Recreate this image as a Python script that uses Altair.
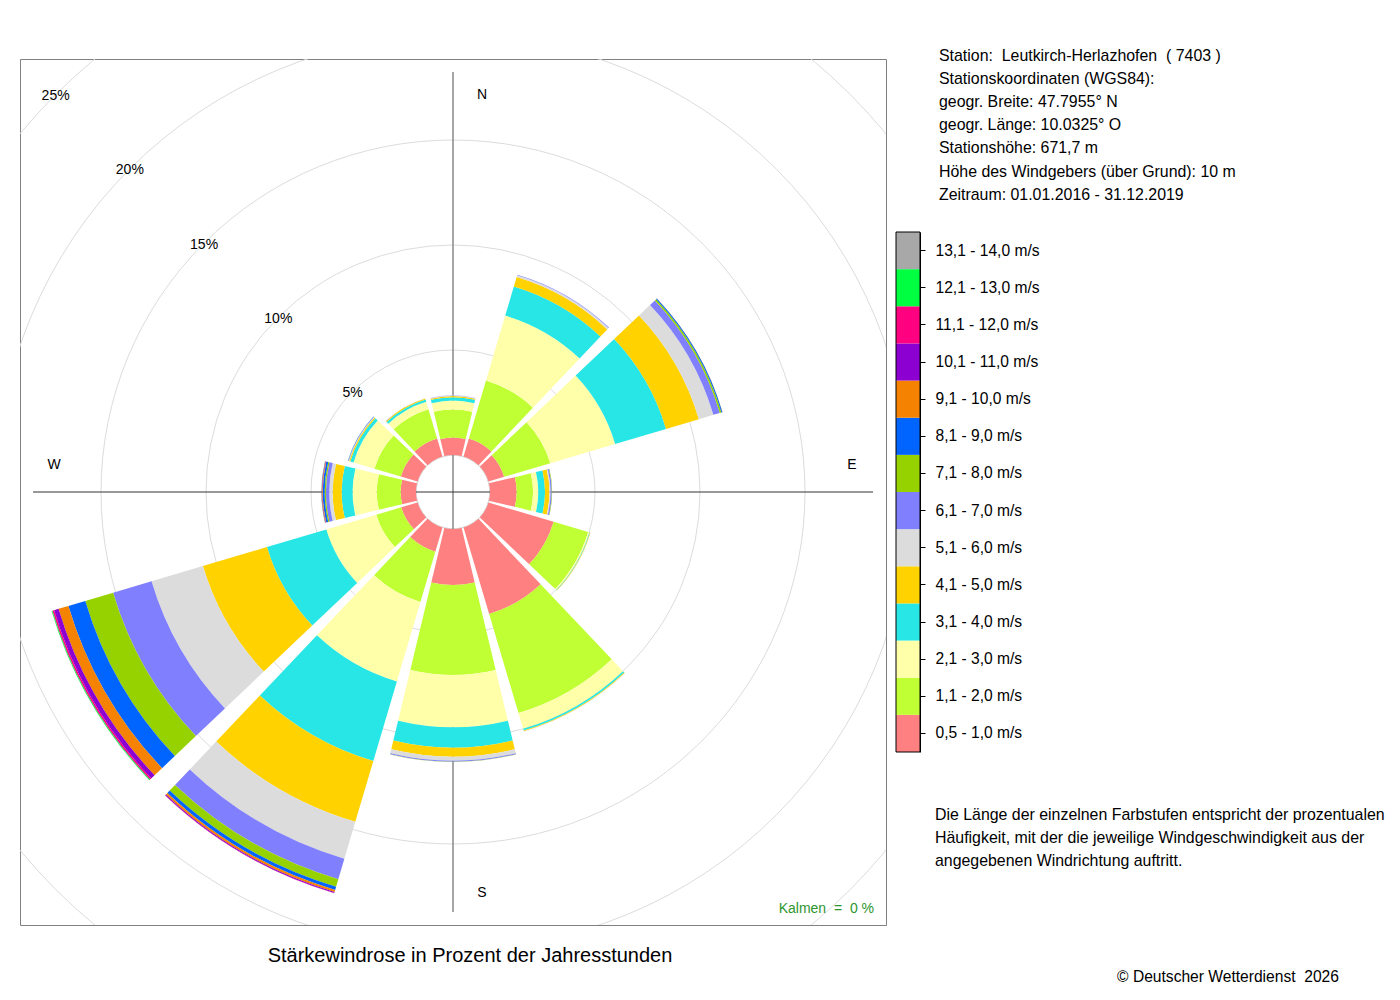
import math
import pandas as pd
import altair as alt

FONT = "Liberation Sans"

# Windrichtungen der 12 Sektoren (Grad, 0 = Nord)
richtung = [0, 30, 60, 90, 120, 150, 180, 210, 240, 270, 300, 330]

klassen = [
    "0,5 - 1,0 m/s", "1,1 - 2,0 m/s", "2,1 - 3,0 m/s", "3,1 - 4,0 m/s",
    "4,1 - 5,0 m/s", "5,1 - 6,0 m/s", "6,1 - 7,0 m/s", "7,1 - 8,0 m/s",
    "8,1 - 9,0 m/s", "9,1 - 10,0 m/s", "10,1 - 11,0 m/s", "11,1 - 12,0 m/s",
    "12,1 - 13,0 m/s", "13,1 - 14,0 m/s",
]
farben = [
    "#ff8080", "#c0ff33", "#ffffaa", "#28e6e6", "#ffd200", "#dcdcdc", "#8080ff",
    "#96d200", "#0064ff", "#f58200", "#8c00d2", "#ff0080", "#00ff40", "#a8a8a8",
]

# Anteil in % der Jahresstunden je Klasse, Reihenfolge wie "richtung"
v_0_5 = [0.83, 0.90, 0.78, 1.27, 3.24, 4.30, 2.67, 1.20, 0.81, 0.73, 0.83, 0.90]
v_1_1 = [1.34, 2.87, 2.29, 0.78, 1.71, 4.92, 4.28, 2.50, 1.24, 1.14, 1.31, 1.45]
v_2_1 = [0.42, 3.23, 3.22, 0.25, 0.06, 0.78, 2.49, 3.95, 2.48, 1.15, 1.04, 0.37]
v_3_1 = [0.16, 1.44, 2.53, 0.32, 0.03, 0.08, 0.97, 3.95, 2.95, 0.52, 0.16, 0.11]
v_4_1 = [0.06, 0.47, 1.63, 0.21, 0.02, 0.04, 0.43, 3.02, 3.18, 0.43, 0.06, 0.05]
v_5_1 = [0.02, 0.09, 0.72, 0.05, 0.01, 0.02, 0.19, 1.83, 2.55, 0.16, 0.02, 0.01]
v_6_1 = [0.01, 0.03, 0.32, 0.06, 0.00, 0.00, 0.05, 1.02, 1.91, 0.16, 0.02, 0.01]
v_7_1 = [0.00, 0.00, 0.08, 0.02, 0.00, 0.00, 0.01, 0.37, 1.38, 0.06, 0.01, 0.00]
v_8_1 = [0.00, 0.00, 0.05, 0.00, 0.00, 0.00, 0.00, 0.16, 0.84, 0.09, 0.01, 0.00]
v_9_1 = [0.00, 0.00, 0.01, 0.00, 0.00, 0.00, 0.00, 0.10, 0.49, 0.03, 0.00, 0.00]
v_10_1 = [0.00, 0.00, 0.00, 0.00, 0.00, 0.00, 0.00, 0.05, 0.22, 0.02, 0.00, 0.00]
v_11_1 = [0.00, 0.00, 0.00, 0.00, 0.00, 0.00, 0.00, 0.01, 0.08, 0.01, 0.00, 0.00]
v_12_1 = [0.00, 0.00, 0.00, 0.00, 0.00, 0.00, 0.00, 0.00, 0.04, 0.01, 0.00, 0.00]
v_13_1 = [0.00, 0.00, 0.00, 0.00, 0.00, 0.00, 0.00, 0.00, 0.01, 0.00, 0.00, 0.00]
anteile = [v_0_5, v_1_1, v_2_1, v_3_1, v_4_1, v_5_1, v_6_1, v_7_1,
           v_8_1, v_9_1, v_10_1, v_11_1, v_12_1, v_13_1]

ringe = [5, 10, 15, 20, 25]
himmel = ["N", "E", "S", "W"]
himmel_grad = [0, 90, 180, 270]

station_zeilen = [
    "Station:\u00a0 Leutkirch-Herlazhofen\u00a0 ( 7403 )",
    "Stationskoordinaten (WGS84):",
    "geogr. Breite: 47.7955° N",
    "geogr. Länge: 10.0325° O",
    "Stationshöhe: 671,7 m",
    "Höhe des Windgebers (über Grund): 10 m",
    "Zeitraum: 01.01.2016 - 31.12.2019",
]
erklaerung_zeilen = [
    "Die Länge der einzelnen Farbstufen entspricht der prozentualen",
    "Häufigkeit, mit der die jeweilige Windgeschwindigkeit aus der",
    "angegebenen Windrichtung auftritt.",
]

# Segmenttabelle: Klassen je Richtung radial aufeinander gestapelt
rows = []
for i, d in enumerate(richtung):
    summe = 0.0
    for k, name in enumerate(klassen):
        wert = anteile[k][i]
        if wert <= 0:
            continue
        rows.append({"richtung": d, "klasse": name, "r0": summe, "r1": summe + wert,
                     "t0": d - 13.5, "t1": d + 13.5})
        summe += wert
segmente = pd.DataFrame(rows)

theta_scale = alt.Scale(domain=[0, 360], range=[0, 2 * math.pi])
radius_scale = alt.Scale(type="linear", domain=[0, 25], range=[37, 562])
farb_scale = alt.Scale(domain=klassen, range=farben)

# Hilfskreise 5 % ... 25 %
kreise = alt.Chart(pd.DataFrame({"pct": ringe})).mark_arc(
    filled=False, stroke="#dcdcdc", strokeWidth=1, clip=True
).encode(
    theta=alt.value(0),
    theta2=alt.value(2 * math.pi),
    radius=alt.Radius("pct:Q", scale=radius_scale, stack=False),
)

kreis_text = alt.Chart(
    pd.DataFrame({"pct": ringe, "label": [f"{v}%" for v in ringe]})
).mark_text(font=FONT, fontSize=14, color="black", baseline="middle", dy=1.5).encode(
    theta=alt.value(math.radians(315)),
    radius=alt.Radius("pct:Q", scale=radius_scale, stack=False),
    text="label:N",
)

# Achsenkreuz
senkrecht = alt.Chart(pd.DataFrame({"a": [0]})).mark_rule(color="#888888", strokeWidth=1.5).encode(
    x=alt.value(433), y=alt.value(13), y2=alt.value(853)
)
waagrecht = alt.Chart(pd.DataFrame({"a": [0]})).mark_rule(color="#333333", strokeWidth=1).encode(
    x=alt.value(13), x2=alt.value(853), y=alt.value(433)
)

sektoren = alt.Chart(segmente).mark_arc().encode(
    theta=alt.Theta("t0:Q", scale=theta_scale, stack=False),
    theta2="t1:Q",
    radius=alt.Radius("r1:Q", scale=radius_scale, stack=False),
    radius2="r0:Q",
    color=alt.Color("klasse:N", scale=farb_scale, legend=None),
)

himmel_df = pd.DataFrame({"name": himmel, "grad": himmel_grad})
ns_text = alt.Chart(himmel_df).transform_filter(
    "datum.name == 'N' || datum.name == 'S'"
).mark_text(font=FONT, fontSize=14, color="black", dx=29, dy=1.5, baseline="middle").encode(
    theta=alt.Theta("grad:Q", scale=theta_scale, stack=False),
    radius=alt.value(399),
    text="name:N",
)
ow_text = alt.Chart(himmel_df).transform_filter(
    "datum.name == 'E' || datum.name == 'W'"
).mark_text(font=FONT, fontSize=14, color="black", dy=-27, baseline="middle").encode(
    theta=alt.Theta("grad:Q", scale=theta_scale, stack=False),
    radius=alt.value(399),
    text="name:N",
)

kalmen = alt.Chart(pd.DataFrame({"a": [0]})).mark_text(
    text="Kalmen\u00a0 = \u00a00 %", font=FONT, fontSize=14, color="#2e962e", align="right"
).encode(x=alt.value(854), y=alt.value(850))

# Farblegende als Balken mit Achse
legende = alt.Chart(pd.DataFrame({"klasse": klassen})).mark_rect().encode(
    x=alt.value(876),
    x2=alt.value(900),
    y=alt.Y(
        "klasse:N",
        scale=alt.Scale(domain=klassen[::-1], range=[173, 693], paddingInner=0, paddingOuter=0),
        axis=alt.Axis(orient="right", offset=34, title=None, domainColor="black",
                      tickColor="black", tickSize=5, labelPadding=10, labelFont=FONT,
                      labelFontSize=15.6, labelColor="black", labelLimit=0, grid=False),
    ),
    color=alt.Color("klasse:N", scale=farb_scale, legend=None),
)
legende_rahmen = alt.Chart(pd.DataFrame({"a": [0]})).mark_rect(
    filled=False, stroke="black", strokeWidth=1
).encode(x=alt.value(876), x2=alt.value(900), y=alt.value(173), y2=alt.value(693))

station = alt.Chart(pd.DataFrame({"a": [0]})).mark_text(
    text=station_zeilen, font=FONT, fontSize=15.9, color="black", align="left", lineHeight=23.2
).encode(x=alt.value(919), y=alt.value(-3.4))

erklaerung = alt.Chart(pd.DataFrame({"a": [0]})).mark_text(
    text=erklaerung_zeilen, font=FONT, fontSize=15.9, color="black", align="left", lineHeight=23
).encode(x=alt.value(915), y=alt.value(755.6))

titel = alt.Chart(pd.DataFrame({"a": [0]})).mark_text(
    text="Stärkewindrose in Prozent der Jahresstunden", font=FONT, fontSize=20, color="black",
    align="center"
).encode(x=alt.value(450), y=alt.value(896.5))

copyright_text = alt.Chart(pd.DataFrame({"a": [0]})).mark_text(
    text="© Deutscher Wetterdienst\u00a0 2026", font=FONT, fontSize=15.6, color="black",
    align="center"
).encode(x=alt.value(1208), y=alt.value(917.5))

chart = alt.layer(
    kreise, senkrecht, waagrecht, sektoren, kreis_text, ns_text, ow_text, kalmen,
    legende, legende_rahmen, station, erklaerung, titel, copyright_text,
).properties(
    width=866,
    height=866,
    padding={"left": 12, "top": 51, "right": 506, "bottom": 70},
    autosize="none",
).configure_view(
    stroke="#808080", strokeWidth=1
)

chart.save("out.html", embed_options={"renderer": "svg", "actions": False})
